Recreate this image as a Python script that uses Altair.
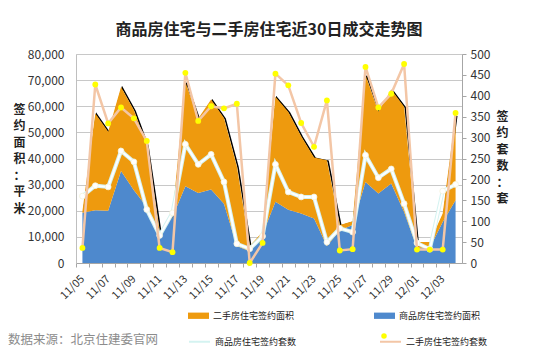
import json
import altair as alt
import pandas as pd

dates = ["11/05", "11/06", "11/07", "11/08", "11/09", "11/10", "11/11", "11/12", "11/13", "11/14",
         "11/15", "11/16", "11/17", "11/18", "11/19", "11/20", "11/21", "11/22", "11/23", "11/24",
         "11/25", "11/26", "11/27", "11/28", "11/29", "11/30", "12/01", "12/02", "12/03", "12/04"]
tick_labels = ["11/05", "11/07", "11/09", "11/11", "11/13", "11/15", "11/17", "11/19",
               "11/21", "11/23", "11/25", "11/27", "11/29", "12/01", "12/03"]

commodity_area = [19200, 20200, 20000, 35200, 27800, 21500, 10600, 17600, 29400, 26800,
                  28100, 22700, 6500, 4500, 11000, 23400, 20400, 18900, 17000, 6500,
                  12500, 14500, 31000, 26600, 30400, 19500, 5800, 5800, 15700, 24000]
secondhand_area = [600, 37000, 30200, 32200, 30700, 23600, 1300, 700, 39900, 28500,
                   34500, 32800, 30500, 2000, 1000, 40200, 37400, 29600, 23400, 32800,
                   2000, 1500, 41000, 31300, 36000, 40300, 2200, 2200, 3200, 32600]
commodity_count = [160, 185, 182, 268, 242, 128, 66, 120, 284, 236,
                   260, 194, 46, 34, 64, 236, 170, 158, 158, 50,
                   83, 74, 258, 204, 225, 142, 48, 33, 172, 188]
secondhand_count = [36, 427, 334, 372, 346, 292, 36, 26, 455, 340,
                    375, 370, 381, 0, 48, 453, 425, 335, 278, 389,
                    30, 33, 469, 372, 405, 476, 32, 32, 32, 359]

A_C = "商品房住宅签约面积"
A_S = "二手房住宅签约面积"
N_C = "商品房住宅签约套数"
N_S = "二手房住宅签约套数"
title_text = "商品房住宅与二手房住宅近30日成交走势图"
source_text = "数据来源：北京住建委官网"
left_title = list("签约面积：平米")
right_title = list("签约套数：套")

FONT = "Noto Sans CJK SC"
ORANGE = "#ee9a0e"
BLUE = "#4e89cd"
PEACH = "#f3c6a6"
CYAN = "#d4f3f1"
YELLOW = "#ffff00"

wide = pd.DataFrame({"date": dates, A_C: commodity_area, A_S: secondhand_area})
cnt = pd.DataFrame({
    "date": dates * 2,
    "series": [N_C] * len(dates) + [N_S] * len(dates),
    "cnt": commodity_count + secondhand_count,
})

step = 386 / len(dates)
X = alt.X(
    "date:O", sort=dates,
    scale=alt.Scale(type="point", padding=0.5),
    axis=alt.Axis(
        title=None, labelAngle=-45, labelAlign="right", labelBaseline="middle",
        labelExpr="indexof(" + json.dumps(tick_labels) + ", datum.value) >= 0 ? datum.value : ''",
        labelFontSize=11, labelColor="#333333", labelFont=FONT, labelPadding=10,
        tickSize=4, tickColor="#a6a6a6", domainColor="#a6a6a6",
        tickOffset=-step / 2, labelOffset=step / 2, grid=False,
    ),
)

left_axis = alt.Axis(
    values=list(range(0, 80001, 10000)), labelExpr="format(datum.value, ',')",
    grid=True, gridColor="#c8c8c8",
    ticks=False, domainColor="#bfbfbf", labelFontSize=12, labelColor="#333333",
    labelFont=FONT, labelPadding=12,
    title=left_title, titleAngle=0, titleX=-57, titleY=50, titleAlign="center",
    titleBaseline="top", titleLineHeight=16.5, titleFontSize=12, titleFontWeight="bold",
    titleFont=FONT, titleColor="#222222",
)
right_axis = alt.Axis(
    orient="right", values=list(range(0, 501, 50)), grid=False, tickSize=4,
    tickColor="#a6a6a6", domainColor="#a6a6a6", labelFontSize=12, labelColor="#333333",
    labelFont=FONT, labelPadding=4,
    title=right_title, titleAngle=0, titleX=40, titleY=57, titleAlign="center",
    titleBaseline="top", titleLineHeight=16.5, titleFontSize=12, titleFontWeight="bold",
    titleFont=FONT, titleColor="#222222",
)
y_left_scale = alt.Scale(domain=[0, 80000], nice=False)
y_right_scale = alt.Scale(domain=[0, 500], nice=False)

base = alt.Chart(wide)

shadow = base.transform_calculate(total=f"datum['{A_C}'] + datum['{A_S}']").mark_line(
    color="black", strokeWidth=1.5, xOffset=1.2, yOffset=0.8
).encode(x=X, y=alt.Y("total:Q", scale=y_left_scale, axis=left_axis))

areas = base.transform_fold([A_C, A_S], as_=["series", "value"]).transform_calculate(
    ord=f"datum.series === '{A_C}' ? 0 : 1"
).mark_area(opacity=1).encode(
    x=X,
    y=alt.Y("value:Q", stack="zero", scale=y_left_scale, axis=left_axis),
    color=alt.Color("series:N", scale=alt.Scale(domain=[A_S, A_C], range=[ORANGE, BLUE]),
                    legend=alt.Legend(orient="none", legendX=112, legendY=251, direction="horizontal",
                                      title=None, symbolType="M-1,-0.3L1,-0.3L1,0.3L-1,0.3Z",
                                      symbolSize=441, symbolStrokeWidth=0, labelFontSize=9,
                                      labelFont=FONT, labelColor="#222222", labelOffset=4,
                                      columnPadding=79, padding=0)),
    order=alt.Order("ord:Q"),
)

left = alt.layer(shadow, areas)

stroke_enc = alt.Stroke(
    "series:N", scale=alt.Scale(domain=[N_C, N_S], range=[CYAN, PEACH]),
    legend=alt.Legend(orient="none", legendX=112, legendY=276, direction="horizontal",
                      title=None, symbolType="stroke", symbolSize=441, symbolStrokeWidth=2,
                      labelFontSize=9, labelFont=FONT, labelColor="#222222", labelOffset=4,
                      columnPadding=79, padding=0),
)
yr = alt.Y("cnt:Q", scale=y_right_scale, axis=right_axis)
cbase = alt.Chart(cnt)

c_glow = cbase.transform_filter(f"datum.series === '{N_C}'").mark_line(strokeWidth=4).encode(
    x=X, y=yr, stroke=stroke_enc)
c_line = cbase.transform_filter(f"datum.series === '{N_C}'").mark_line(
    strokeWidth=2, color="#ffffff").encode(x=X, y=yr)
c_pts = cbase.transform_filter(f"datum.series === '{N_C}'").mark_circle(
    size=34, color="#ffffff", opacity=1, stroke="#f2f2da", strokeWidth=0.8).encode(x=X, y=yr)
s_line = cbase.transform_filter(f"datum.series === '{N_S}'").mark_line(strokeWidth=2.5).encode(
    x=X, y=yr, stroke=stroke_enc)
s_pts = cbase.transform_filter(f"datum.series === '{N_S}'").mark_circle(size=34, opacity=1).encode(
    x=X, y=yr,
    fill=alt.Fill("series:N", scale=alt.Scale(domain=[N_S], range=[YELLOW]),
                  legend=alt.Legend(orient="none", legendX=305, legendY=279, title=None,
                                    symbolType="circle", symbolSize=30, symbolStrokeWidth=0,
                                    labelExpr="''", labelFontSize=5, padding=0)),
)

right = alt.layer(c_glow, c_line, c_pts, s_line, s_pts)

src = alt.Chart(pd.DataFrame({"t": [source_text]})).mark_text(
    align="left", baseline="middle", fontSize=12.5, font=FONT, color="#8c8c8c"
).encode(x=alt.value(-68), y=alt.value(286), text="t:N")

chart = alt.layer(left, right, src).resolve_scale(
    y="independent"
).properties(
    width=386, height=209,
    title=alt.TitleParams(title_text, fontSize=16, font=FONT, fontWeight="bold",
                          anchor="middle", offset=10, color="#222222"),
    autosize=alt.AutoSizeParams(type="none"),
    padding={"left": 68, "top": 46, "right": 66, "bottom": 92},
).configure_view(stroke=None).configure(background="#ffffff")

chart.save("out.html", embed_options={"renderer": "svg", "actions": False})
